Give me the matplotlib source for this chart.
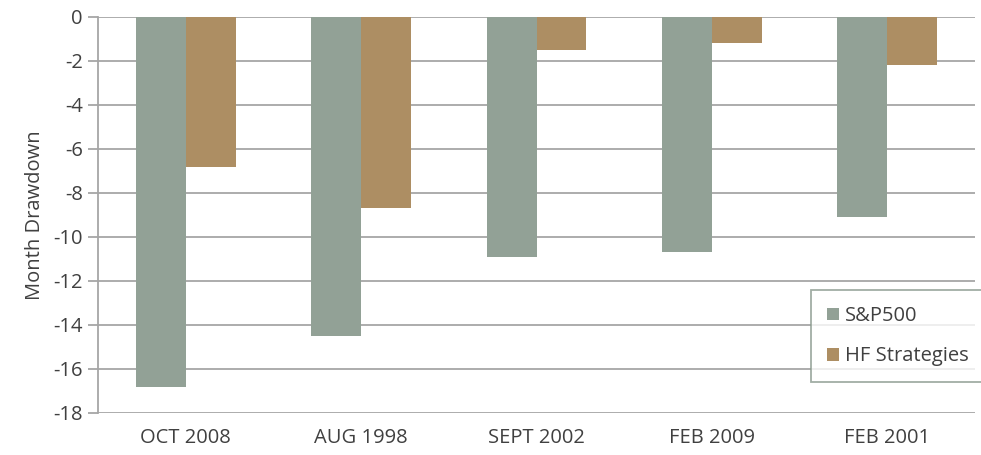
import matplotlib.pyplot as plt
import numpy as np

plt.rcParams['font.family'] = ['Open Sans', 'DejaVu Sans']
plt.rcParams['axes.unicode_minus'] = False

# Data
periods = ["OCT 2008", "AUG 1998", "SEPT 2002", "FEB 2009", "FEB 2001"]
sp500 = [-16.8, -14.5, -10.9, -10.7, -9.1]
hf_strategies = [-6.8, -8.7, -1.5, -1.2, -2.2]

sp_color = "#92A196"
hf_color = "#AD8E63"
text_color = "#404040"
grid_color = "#A6A6A6"
fs = 14.5

fig = plt.figure(figsize=(9.81, 4.55), dpi=100)
ax = fig.add_axes([98 / 981, 42 / 455, 877 / 981, 396 / 455])

x = np.arange(len(periods))
w = 0.285
ax.bar(x - w / 2, sp500, width=w, color=sp_color, label="S&P500", zorder=3)
ax.bar(x + w / 2, hf_strategies, width=w, color=hf_color, label="HF Strategies", zorder=3)

ax.set_xlim(-0.5, len(periods) - 0.5)
ax.set_ylim(-18, 0)
ax.set_yticks(np.arange(-18, 1, 2))
ax.set_xticks(x)
ax.set_xticklabels(periods)

ax.yaxis.grid(True, color=grid_color, linewidth=1.3, zorder=0)
for side in ["top", "right", "bottom"]:
    ax.spines[side].set_visible(False)
ax.spines["left"].set_color(grid_color)
ax.spines["left"].set_linewidth(1.3)

ax.tick_params(axis="y", colors=grid_color, length=7, width=1.3, labelcolor=text_color,
               labelsize=fs, pad=4)
ax.tick_params(axis="x", length=0, labelcolor=text_color, labelsize=fs, pad=11)

ax.set_ylabel("Month Drawdown", color=text_color, fontsize=fs, labelpad=6)

leg = fig.legend(loc="upper left", bbox_to_anchor=(811 / 981, 1 - 290 / 455),
                 frameon=True, fancybox=False, fontsize=fs, labelcolor=text_color,
                 handlelength=0.6, handleheight=0.6, handletextpad=0.3,
                 labelspacing=1.0, borderpad=0.8, borderaxespad=0)
leg.get_frame().set_edgecolor("#8A9A8E")
leg.get_frame().set_linewidth(1.3)

fig.savefig("out.png", dpi=100)
